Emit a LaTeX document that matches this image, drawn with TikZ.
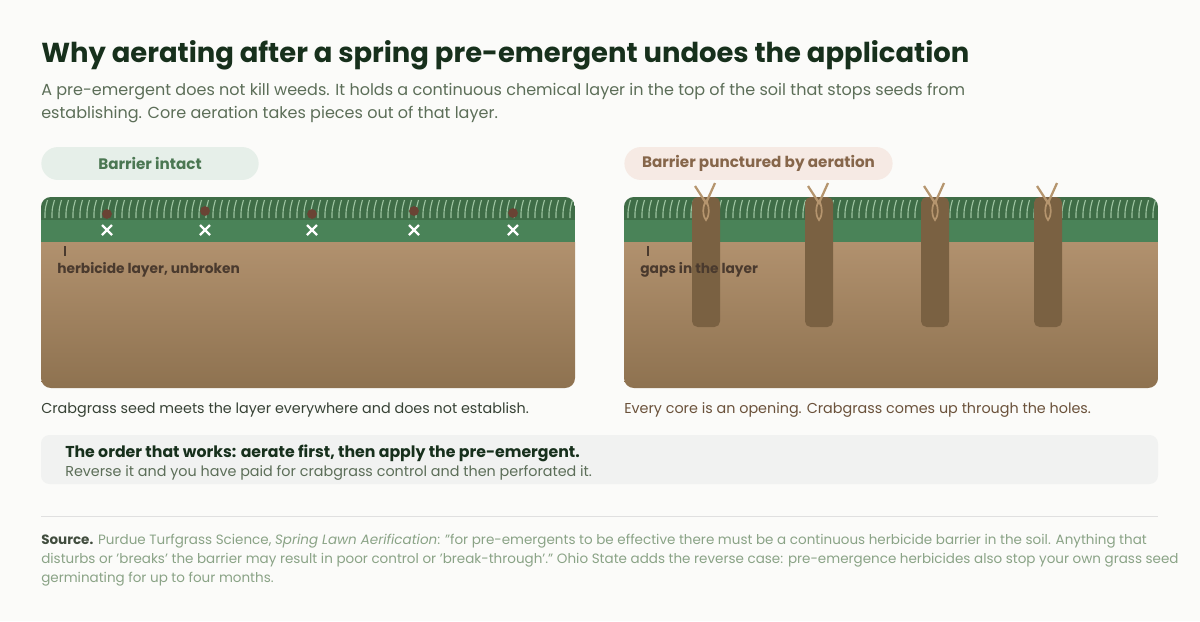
\documentclass[tikz,border=0pt]{standalone}
\usepackage{fontspec}
\setmainfont{Poppins}
\usepackage{xcolor}
\usetikzlibrary{positioning, calc}
\definecolor{bgpage}{HTML}{FBFBF9}
\definecolor{titlecol}{HTML}{17301C}
\definecolor{subcol}{HTML}{5C6E58}
\definecolor{grasscol}{HTML}{3F6D47}
\definecolor{bladecol}{HTML}{9CC3A0}
\definecolor{layercol}{HTML}{4A8358}
\definecolor{soiltop}{HTML}{B1916E}
\definecolor{soilbot}{HTML}{8E7250}
\definecolor{corecol}{HTML}{7A6142}
\definecolor{sproutcol}{HTML}{B5956E}
\definecolor{seedcol}{HTML}{6A4334}
\definecolor{labelcol}{HTML}{4A3A2E}
\definecolor{goodpill}{HTML}{E6EFE9}
\definecolor{goodtext}{HTML}{4B7752}
\definecolor{badpill}{HTML}{F6EAE4}
\definecolor{badtext}{HTML}{86664A}
\definecolor{notecol}{HTML}{F1F2F1}
\definecolor{srccol}{HTML}{8AA386}

\begin{document}
\begin{tikzpicture}[x=0.025cm, y=-0.025cm,
    pill/.style={rounded corners=16.5pt*0.709, minimum height=33*0.709pt, font=\fontsize{10.8}{12}\selectfont\bfseries, inner sep=0pt},
    txt/.style={anchor=base west, inner sep=0pt, font=\fontsize{11.4}{13}\selectfont},
    small/.style={txt, font=\fontsize{10.2}{12}\selectfont},
    tag/.style={anchor=base west, inner sep=0pt, font=\fontsize{9.8}{11}\selectfont\bfseries, text=labelcol},
    seed/.style={fill=seedcol, circle, inner sep=0pt, minimum size=7pt},
    cross/.style={draw=white, line width=1.6pt},
    core/.style={fill=corecol, rounded corners=4pt},
    sprout/.style={draw=sproutcol, line width=1.6pt}
]
    % page
    \fill[bgpage] (0,0) rectangle (1200,621);
    \useasboundingbox (0,0) rectangle (1200,621);

    % title and lead
    \node[txt, font=\fontsize{19.5}{22}\selectfont\bfseries, text=titlecol] (title) at (41,62) {Why aerating after a spring pre-emergent undoes the application};
    \node[txt, text=subcol] (lead1) at (41,95) {A pre-emergent does not kill weeds. It holds a continuous chemical layer in the top of the soil that stops seeds from};
    \node[txt, text=subcol] (lead2) at (41,118) {establishing. Core aeration takes pieces out of that layer.};

    % pills
    \node[pill, fill=goodpill, text=goodtext, minimum width=218*0.709pt] (intact) at (150,163.5) {Barrier intact};
    \node[pill, fill=badpill, text=badtext, minimum width=269*0.709pt] (punctured) at (758.5,163.5) {Barrier punctured by aeration};

    % two panels
    \foreach \px/\nm in {41/left, 624/right} {
        \begin{scope}
            \clip[rounded corners=7pt] (\px,197) rectangle ++(534,191);
            \shade[top color=soiltop, bottom color=soilbot] (\px,242) rectangle ++(534,146);
            \fill[grasscol] (\px,197) rectangle ++(534,25);
            \fill[layercol] (\px,220) rectangle ++(534,22);
            \foreach \k in {0,...,75}
                \draw[bladecol, line width=0.8pt] ($(\px,218)+(\k*7+4,0)$) .. controls +(0,-9) .. +(2.5,-18);
        \end{scope}
        \draw[labelcol, line width=0.8pt] ($(\px,246)+(24,0)$) -- +(0,10);
    }

    % left: seeds stopped at the layer
    \foreach \sx/\sy in {107/214, 205/211, 312/214, 414/211, 513/213} {
        \node[seed] at (\sx,\sy) {};
        \draw[cross] (\sx-5,225) -- (\sx+5,235) (\sx-5,235) -- (\sx+5,225);
    }
    \node[tag] (unbroken) at (57,273) {herbicide layer, unbroken};

    % right: cores with sprouts
    \foreach \cx in {692, 805, 921, 1034} {
        \fill[core] (\cx,197) rectangle ++(28,130);
        \draw[sprout] (\cx+3,186) -- (\cx+14,203) -- (\cx+23,183);
        \draw[sprout, line width=1.2pt] (\cx+14,200) .. controls (\cx+9,210) and (\cx+12,218) .. (\cx+14,220) .. controls (\cx+16,218) and (\cx+19,210) .. (\cx+14,200);
    }
    \node[tag] (gaps) at (640,273) {gaps in the layer};

    % captions
    \node[small, text=subcol!60!black] (capleft) at (41,413) {Crabgrass seed meets the layer everywhere and does not establish.};
    \node[small, text=badtext!80!black] (capright) at (624,413) {Every core is an opening. Crabgrass comes up through the holes.};

    % note box
    \fill[notecol, rounded corners=6pt] (41,435) rectangle (1158,484);
    \node[txt, font=\fontsize{11.2}{13}\selectfont\bfseries, text=titlecol] (order) at (65,457) {The order that works: aerate first, then apply the pre-emergent.};
    \node[small, text=subcol] (reverse) at (65,476) {Reverse it and you have paid for crabgrass control and then perforated it.};

    % source
    \draw[black!12, line width=0.7pt] (41,516) -- (1158,516);
    \node[txt, font=\fontsize{9.6}{12}\selectfont, text=srccol] (src1) at (41,544) {\textcolor{subcol!70!black}{\bfseries Source.} Purdue Turfgrass Science, \emph{Spring Lawn Aerification}: "for pre-emergents to be effective there must be a continuous herbicide barrier in the soil. Anything that};
    \node[txt, font=\fontsize{9.6}{12}\selectfont, text=srccol] (src2) at (41,563) {disturbs or 'breaks' the barrier may result in poor control or 'break-through'." Ohio State adds the reverse case: pre-emergence herbicides also stop your own grass seed};
    \node[txt, font=\fontsize{9.6}{12}\selectfont, text=srccol] (src3) at (41,582) {germinating for up to four months.};
\end{tikzpicture}
\end{document}
